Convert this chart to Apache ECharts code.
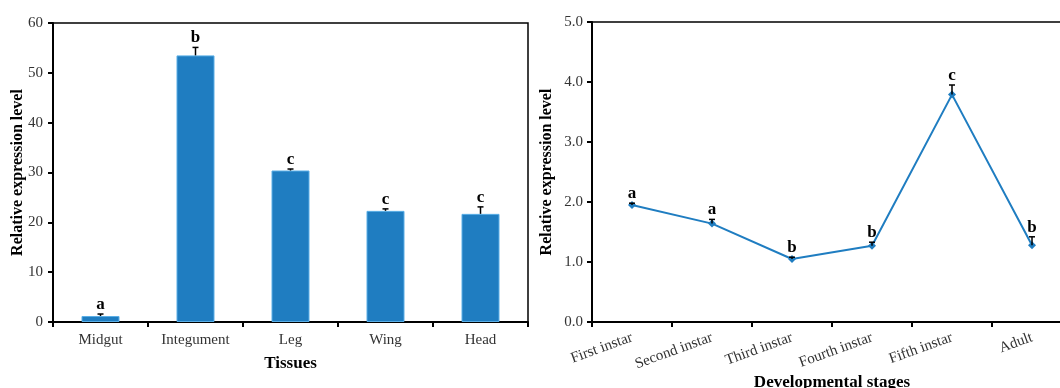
<!DOCTYPE html>
<html>
<head>
<meta charset="utf-8">
<script src="https://cdn.jsdelivr.net/npm/echarts@6/dist/echarts.min.js"></script>
<style>
html,body{margin:0;padding:0;background:#fff;overflow:hidden;width:1060px;height:388px;}
#c{width:1080px;height:388px;}
</style>
</head>
<body>
<div id="c"></div>
<script>
const tissues = ['Midgut', 'Integument', 'Leg', 'Wing', 'Head'];
const tissueValues = [1.2, 53.5, 30.4, 22.3, 21.7];
const tissueErrors = [0.4, 1.6, 0.3, 0.4, 1.4];
const tissueLetters = ['a', 'b', 'c', 'c', 'c'];

const stages = ['First instar', 'Second instar', 'Third instar', 'Fourth instar', 'Fifth instar', 'Adult'];
const stageValues = [1.95, 1.64, 1.05, 1.27, 3.79, 1.28];
const stageErrors = [0.03, 0.07, 0.03, 0.06, 0.16, 0.14];
const stageLetters = ['a', 'a', 'b', 'b', 'c', 'b'];

const BLUE = '#1f7dc1';
const FONT = '"Liberation Serif", "DejaVu Serif", serif';

function errRender(values, errors, letters) {
  return function (params, api) {
    const i = api.value(0);
    const v = values[i], e = errors[i];
    const base = api.coord([i, v]);
    const top = api.coord([i, v + e]);
    const cap = 3;
    return {
      type: 'group',
      children: [
        { type: 'line', shape: { x1: base[0], y1: base[1], x2: top[0], y2: top[1] }, style: { stroke: '#000', lineWidth: 1.5 } },
        { type: 'line', shape: { x1: top[0] - cap, y1: top[1], x2: top[0] + cap, y2: top[1] }, style: { stroke: '#000', lineWidth: 1.5 } },
        { type: 'text', x: top[0], y: top[1] - 1, style: { text: letters[i], font: 'bold 17px ' + FONT, fill: '#000', align: 'center', verticalAlign: 'bottom' } }
      ]
    };
  };
}

const chart = echarts.init(document.getElementById('c'));
chart.setOption({
  animation: false,
  backgroundColor: '#fff',
  grid: [
    { left: 53, top: 23, width: 475, height: 299, show: true, borderColor: '#000', borderWidth: 1.5, backgroundColor: 'transparent', outerBoundsMode: 'none', containLabel: false },
    { left: 592, top: 22, width: 480, height: 300, show: true, borderColor: '#000', borderWidth: 1.5, backgroundColor: 'transparent', outerBoundsMode: 'none', containLabel: false }
  ],
  xAxis: [
    {
      gridIndex: 0, type: 'category', data: tissues,
      axisLine: { lineStyle: { color: '#000', width: 2 } },
      axisTick: { show: true, length: 5, lineStyle: { color: '#000', width: 2 } },
      axisLabel: { color: '#333', fontSize: 15, fontFamily: FONT, margin: 11 },
      name: 'Tissues', nameLocation: 'middle', nameGap: 33, nameMoveOverlap: false,
      nameTextStyle: { color: '#000', fontSize: 17, fontWeight: 'bold', fontFamily: FONT }
    },
    {
      gridIndex: 1, type: 'category', data: stages,
      axisLine: { lineStyle: { color: '#000', width: 2 } },
      axisTick: { show: true, length: 5, lineStyle: { color: '#000', width: 2 } },
      axisLabel: { color: '#333', fontSize: 15, fontFamily: FONT, margin: 15, rotate: 20, interval: 0 },
      name: 'Developmental stages', nameLocation: 'middle', nameGap: 52, nameMoveOverlap: false,
      nameTextStyle: { color: '#000', fontSize: 17, fontWeight: 'bold', fontFamily: FONT }
    }
  ],
  yAxis: [
    {
      gridIndex: 0, type: 'value', min: 0, max: 60, interval: 10,
      splitLine: { show: false },
      axisLine: { show: true, lineStyle: { color: '#000', width: 2 } },
      axisTick: { show: true, length: 5, lineStyle: { color: '#000', width: 2 } },
      axisLabel: { color: '#333', fontSize: 15, fontFamily: FONT, margin: 10 },
      name: 'Relative expression level', nameLocation: 'middle', nameGap: 27, nameMoveOverlap: false,
      nameTextStyle: { color: '#000', fontSize: 16, fontWeight: 'bold', fontFamily: FONT }
    },
    {
      gridIndex: 1, type: 'value', min: 0, max: 5, interval: 1,
      splitLine: { show: false },
      axisLine: { show: true, lineStyle: { color: '#000', width: 2 } },
      axisTick: { show: true, length: 5, lineStyle: { color: '#000', width: 2 } },
      axisLabel: { color: '#333', fontSize: 15, fontFamily: FONT, margin: 9, formatter: v => v.toFixed(1) },
      name: 'Relative expression level', nameLocation: 'middle', nameGap: 37, nameMoveOverlap: false,
      nameTextStyle: { color: '#000', fontSize: 16, fontWeight: 'bold', fontFamily: FONT }
    }
  ],
  series: [
    {
      type: 'bar', xAxisIndex: 0, yAxisIndex: 0, data: tissueValues, barWidth: 38,
      itemStyle: { color: BLUE, borderColor: '#5aaee6', borderWidth: 1 }, z: 2
    },
    {
      type: 'custom', xAxisIndex: 0, yAxisIndex: 0,
      data: tissueValues.map((v, i) => [i, v]),
      renderItem: errRender(tissueValues, tissueErrors, tissueLetters), z: 5
    },
    {
      type: 'line', xAxisIndex: 1, yAxisIndex: 1, data: stageValues,
      lineStyle: { color: BLUE, width: 2 }, itemStyle: { color: BLUE },
      symbol: 'diamond', symbolSize: 8, showSymbol: true, z: 3
    },
    {
      type: 'custom', xAxisIndex: 1, yAxisIndex: 1,
      data: stageValues.map((v, i) => [i, v]),
      renderItem: errRender(stageValues, stageErrors, stageLetters), z: 5
    }
  ]
});
</script>
</body>
</html>
